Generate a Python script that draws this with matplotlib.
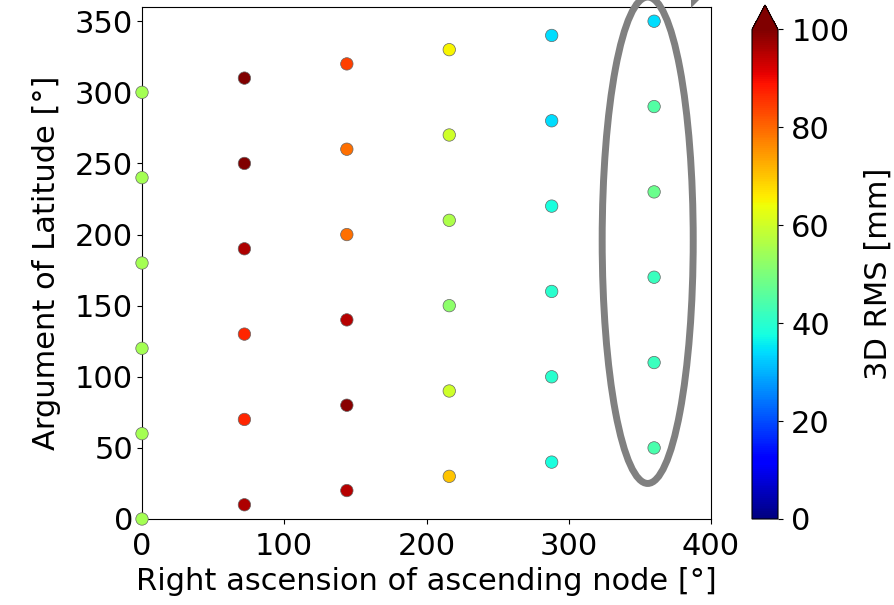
import matplotlib
matplotlib.use("Agg")
import matplotlib.pyplot as plt
import numpy as np
from matplotlib.patches import Ellipse, Polygon

# RAAN [deg], argument of latitude [deg], 3D RMS [mm]
raan = [0, 0, 0, 0, 0, 0,
        72, 72, 72, 72, 72, 72,
        144, 144, 144, 144, 144, 144,
        216, 216, 216, 216, 216, 216,
        288, 288, 288, 288, 288, 288,
        360, 360, 360, 360, 360, 360]
arg_lat = [0, 60, 120, 180, 240, 300,
           10, 70, 130, 190, 250, 310,
           20, 80, 140, 200, 260, 320,
           30, 90, 150, 210, 270, 330,
           40, 100, 160, 220, 280, 340,
           50, 110, 170, 230, 290, 350]
rms = [55, 55, 55, 55, 55, 55,
       96, 87, 87, 96, 100, 100,
       95, 99, 95, 79, 79, 84,
       70, 60, 52, 56, 60, 65,
       38, 40, 40, 38, 34, 34,
       44, 42, 42, 48, 45, 34]

xticks = [0, 100, 200, 300, 400]
yticks = [0, 50, 100, 150, 200, 250, 300, 350]
cticks = [0, 20, 40, 60, 80, 100]

W, H = 894, 605
fs = 22
fig = plt.figure(figsize=(W / 100, H / 100), dpi=100)
ax = fig.add_axes([142 / W, 1 - 519 / H, (711 - 142) / W, (519 - 7) / H])
cax = fig.add_axes([752 / W, 1 - 519 / H, 26 / W, (519 - 5) / H])

sc = ax.scatter(raan, arg_lat, c=rms, cmap='jet', vmin=0, vmax=100,
                s=80, edgecolors='0.4', linewidths=0.5,
                clip_on=False, zorder=3)

ax.set_xlim(0, 400)
ax.set_ylim(0, 360)
ax.set_xticks(xticks)
ax.set_yticks(yticks)
ax.tick_params(axis='x', labelsize=fs, pad=6)
ax.tick_params(axis='y', labelsize=fs, pad=3)
ax.set_xlabel('Right ascension of ascending node [°]', fontsize=fs, labelpad=4)
ax.set_ylabel('Argument of Latitude [°]', fontsize=fs, labelpad=10)

# gray highlight around the RAAN = 360 column
ell = Ellipse((355.5, 196), 64, 342, fill=False, edgecolor='gray',
              linewidth=5, clip_on=False, zorder=4)
ax.add_patch(ell)

# cut-off piece of annotation at the top edge
fig.patches.append(Polygon([(691 / W, 1.0), (691 / W, 1 - 8 / H), (699 / W, 1.0)],
                           closed=True, facecolor='gray', edgecolor='none',
                           transform=fig.transFigure, figure=fig))

cb = fig.colorbar(sc, cax=cax, extend='max', ticks=cticks)
cb.ax.tick_params(labelsize=fs, pad=6)
cb.set_label('3D RMS [mm]', fontsize=fs, labelpad=10)

fig.savefig('out.png', dpi=100)
